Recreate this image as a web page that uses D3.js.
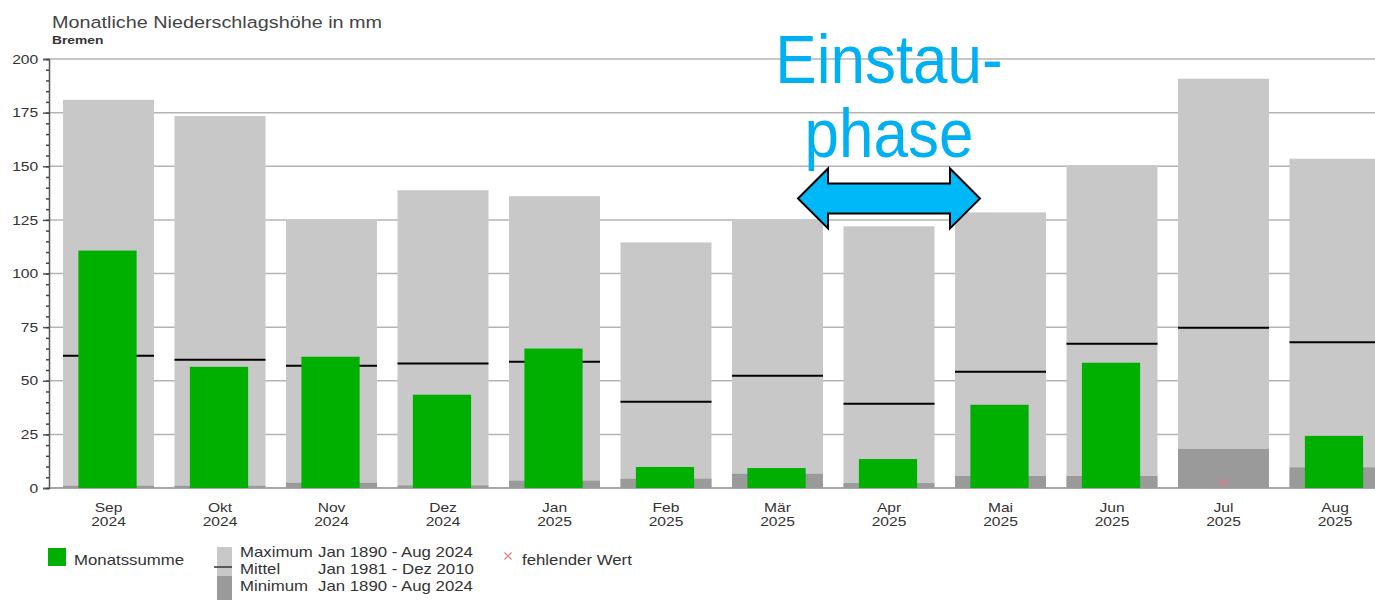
<!DOCTYPE html>
<html>
<head>
<meta charset="utf-8">
<script src="https://cdn.jsdelivr.net/npm/d3@7"></script>
<style>
  body { margin: 0; background: #fff; }
  svg { display: block; font-family: "Liberation Sans", Arial, sans-serif; }
</style>
</head>
<body>
<div id="chart"></div>
<script>
// months shown on the x axis
var months = ["Sep", "Okt", "Nov", "Dez", "Jan", "Feb", "Mär", "Apr", "Mai", "Jun", "Jul", "Aug"];
var years = ["2024", "2024", "2024", "2024", "2025", "2025", "2025", "2025", "2025", "2025", "2025", "2025"];

// monthly sum (null = missing value)
var monatssumme = [110.7, 56.5, 61.2, 43.5, 65, 9.8, 9.3, 13.5, 38.8, 58.4, null, 24.3];
// long term values
var maximum = [181, 173.4, 125.2, 138.8, 136, 114.5, 125, 122, 128.5, 150.5, 190.8, 153.5];
var mittel = [61.7, 59.8, 57, 58, 58.9, 40.2, 52.3, 39.3, 54.2, 67.2, 74.7, 67.9];
var minimum = [1, 1, 2.4, 1.2, 3.4, 4.3, 6.6, 2.3, 5.6, 5.6, 18.2, 9.6];

var yTicks = [0, 25, 50, 75, 100, 125, 150, 175, 200];

var width = 1375, height = 600;
var sx = 1.2; // the original text is drawn a bit wide

var svg = d3.select("#chart")
    .append("svg")
    .attr("width", width)
    .attr("height", height);

var x = d3.scaleBand()
    .domain(months)
    .range([49, 1394.5])
    .paddingInner(0.184)
    .paddingOuter(0.1256);

var y = d3.scaleLinear()
    .domain([0, 200])
    .range([488, 59]);

function label(g, px, py, txt, size, anchor, weight, color) {
    return g.append("text")
        .attr("transform", "translate(" + px + "," + py + ") scale(" + sx + ",1)")
        .attr("text-anchor", anchor || "start")
        .style("font-size", size + "px")
        .style("font-weight", weight || "normal")
        .attr("fill", color || "#333")
        .text(txt);
}

// title
label(svg, 52, 28, "Monatliche Niederschlagshöhe in mm", 16.5, "start", "normal", "#444");
label(svg, 52, 44, "Bremen", 11.5, "start", "bold", "#333");

// grid lines
svg.append("g")
    .selectAll("line")
    .data(yTicks.filter(function (d) { return d > 0; }))
    .enter()
    .append("line")
    .attr("x1", 49)
    .attr("x2", width)
    .attr("y1", function (d) { return y(d); })
    .attr("y2", function (d) { return y(d); })
    .attr("stroke", "#b4b4b4")
    .attr("stroke-width", 1.5);

svg.append("line")
    .attr("x1", 49)
    .attr("x2", width)
    .attr("y1", y(0))
    .attr("y2", y(0))
    .attr("stroke", "#888")
    .attr("stroke-width", 1.5);

var idx = d3.range(months.length);

// maximum bars
svg.append("g")
    .selectAll("rect")
    .data(idx)
    .enter()
    .append("rect")
    .attr("x", function (i) { return x(months[i]); })
    .attr("y", function (i) { return y(maximum[i]); })
    .attr("width", x.bandwidth())
    .attr("height", function (i) { return y(0) - y(maximum[i]); })
    .attr("fill", "#c8c8c8");

// minimum bars
svg.append("g")
    .selectAll("rect")
    .data(idx)
    .enter()
    .append("rect")
    .attr("x", function (i) { return x(months[i]); })
    .attr("y", function (i) { return y(minimum[i]); })
    .attr("width", x.bandwidth())
    .attr("height", function (i) { return y(0) - y(minimum[i]); })
    .attr("fill", "#9a9a9a");

// mean lines
svg.append("g")
    .selectAll("line")
    .data(idx)
    .enter()
    .append("line")
    .attr("x1", function (i) { return x(months[i]); })
    .attr("x2", function (i) { return x(months[i]) + x.bandwidth(); })
    .attr("y1", function (i) { return y(mittel[i]); })
    .attr("y2", function (i) { return y(mittel[i]); })
    .attr("stroke", "#000")
    .attr("stroke-width", 2);

// monthly sums
var gw = x.bandwidth() * 0.64;
svg.append("g")
    .selectAll("rect")
    .data(idx.filter(function (i) { return monatssumme[i] != null; }))
    .enter()
    .append("rect")
    .attr("x", function (i) { return x(months[i]) + (x.bandwidth() - gw) / 2 - 1; })
    .attr("y", function (i) { return y(monatssumme[i]); })
    .attr("width", gw)
    .attr("height", function (i) { return y(0) - y(monatssumme[i]); })
    .attr("fill", "#00b000");

// missing values
svg.append("g")
    .selectAll("path")
    .data(idx.filter(function (i) { return monatssumme[i] == null; }))
    .enter()
    .append("path")
    .attr("transform", function (i) {
        return "translate(" + (x(months[i]) + x.bandwidth() / 2) + "," + (y(0) - 5) + ")";
    })
    .attr("d", "M-4,-4L4,4M-4,4L4,-4")
    .attr("stroke", "#e07a8a")
    .attr("stroke-width", 1.2)
    .attr("fill", "none");

// y axis
var yAxis = svg.append("g")
    .attr("transform", "translate(49,0)")
    .call(d3.axisLeft(y).tickValues(yTicks).tickSize(6).tickPadding(3));
yAxis.select(".domain").attr("stroke", "#555").attr("stroke-width", 1.5);
yAxis.selectAll(".tick line").attr("stroke", "#555").attr("stroke-width", 1.5);
yAxis.selectAll(".tick text")
    .attr("fill", "#333")
    .style("font-size", "13px")
    .style("font-family", "\"Liberation Sans\", Arial, sans-serif")
    .attr("transform", "scale(" + sx + ",1)");

var minor = svg.append("g")
    .attr("transform", "translate(49,0)")
    .call(d3.axisLeft(y).tickValues(d3.range(0, 201, 5)).tickSize(3).tickFormat(""));
minor.select(".domain").remove();
minor.selectAll(".tick line").attr("stroke", "#444").attr("stroke-width", 1.5);

// x axis labels
var xAxis = svg.append("g")
    .attr("transform", "translate(0," + y(0) + ")")
    .call(d3.axisBottom(x).tickSize(0).tickFormat(""));
xAxis.select(".domain").remove();
xAxis.selectAll(".tick").each(function (d, i) {
    var t = d3.select(this).append("text")
        .attr("transform", "scale(" + sx + ",1)")
        .attr("text-anchor", "middle")
        .attr("fill", "#333")
        .style("font-size", "13px");
    t.append("tspan").attr("x", 0).attr("y", 24).text(d);
    t.append("tspan").attr("x", 0).attr("y", 38).text(years[i]);
});

// legend
var leg = svg.append("g");
leg.append("rect").attr("x", 48).attr("y", 548).attr("width", 18).attr("height", 18).attr("fill", "#00b000");
label(leg, 74, 565, "Monatssumme", 14);

leg.append("rect").attr("x", 217).attr("y", 547).attr("width", 15).attr("height", 29).attr("fill", "#c8c8c8");
leg.append("rect").attr("x", 217).attr("y", 576).attr("width", 15).attr("height", 24).attr("fill", "#9a9a9a");
leg.append("line").attr("x1", 214).attr("x2", 232).attr("y1", 567).attr("y2", 567)
    .attr("stroke", "#333").attr("stroke-width", 1.5);

var legRows = [
    ["Maximum", "Jan 1890 - Aug 2024", 557],
    ["Mittel", "Jan 1981 - Dez 2010", 574],
    ["Minimum", "Jan 1890 - Aug 2024", 591]
];
legRows.forEach(function (r) {
    label(leg, 240, r[2], r[0], 14);
    label(leg, 318, r[2], r[1], 14);
});

leg.append("path")
    .attr("transform", "translate(508,556)")
    .attr("d", "M-3.5,-3.5L3.5,3.5M-3.5,3.5L3.5,-3.5")
    .attr("stroke", "#e07a8a")
    .attr("stroke-width", 1.2);
label(leg, 522, 565, "fehlender Wert", 14);

// annotation: Einstauphase over Apr
var cx = x("Apr") + x.bandwidth() / 2;
var bw = x.bandwidth();
var note = svg.append("g");
note.append("text")
    .attr("transform", "translate(" + cx + ",83) scale(1,1.12)")
    .attr("text-anchor", "middle")
    .attr("fill", "#00b0f0")
    .style("font-size", "62px")
    .text("Einstau-");
note.append("text")
    .attr("transform", "translate(" + cx + ",157) scale(1,1.12)")
    .attr("text-anchor", "middle")
    .attr("fill", "#00b0f0")
    .style("font-size", "62px")
    .text("phase");

var ay = y(135);
var hw = bw, head = 30, hh = 30, sh = 15;
var arrow = [
    [-hw, 0], [-hw + head, -hh], [-hw + head, -sh], [hw - head, -sh], [hw - head, -hh],
    [hw, 0], [hw - head, hh], [hw - head, sh], [-hw + head, sh], [-hw + head, hh]
];
note.append("path")
    .attr("transform", "translate(" + cx + "," + ay + ")")
    .attr("d", d3.line()(arrow) + "Z")
    .attr("fill", "#00b8f8")
    .attr("stroke", "#000")
    .attr("stroke-width", 2)
    .attr("stroke-linejoin", "miter");
</script>
</body>
</html>
